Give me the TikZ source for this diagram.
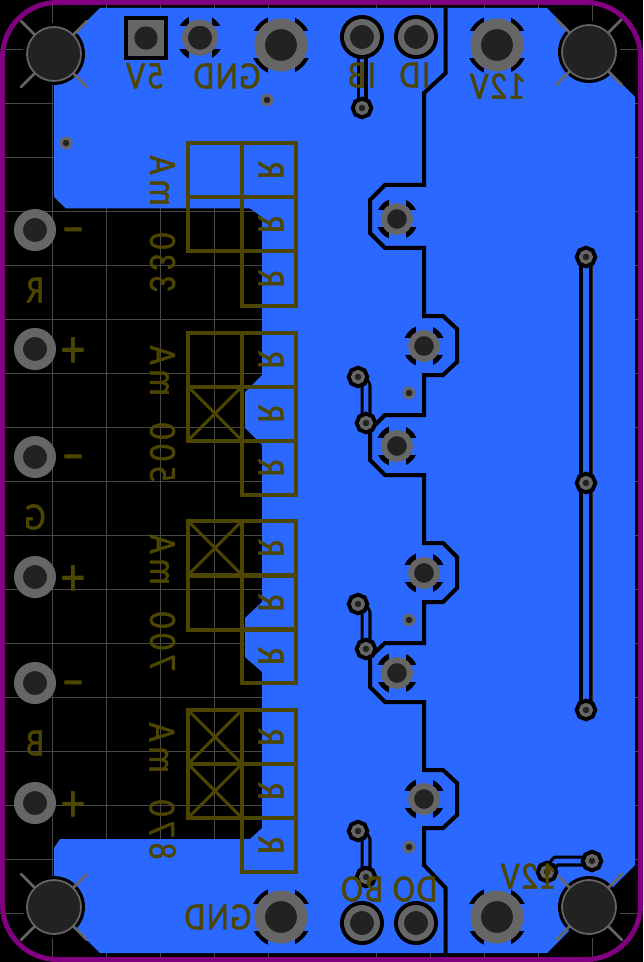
\documentclass[tikz,border=0pt]{standalone}
\usepackage{fontspec}
\setmainfont{Carlito}
\newfontfamily\silkfont[FakeStretch=0.86,LetterSpace=5,FakeBold=1.2]{Carlito}
\newfontfamily\silkupfont[FakeStretch=0.86,LetterSpace=12,WordSpace=2.2,FakeBold=1.2]{Carlito}
\definecolor{copper}{HTML}{2B68FF}
\definecolor{silk}{HTML}{4C4600}
\definecolor{ringgray}{HTML}{666666}
\definecolor{holedark}{HTML}{222222}
\definecolor{outline}{HTML}{800080}
\definecolor{gridgray}{HTML}{484848}
\tikzstyle{gridline} = [gridgray, line width=0.7pt]
\tikzstyle{cut} = [black, line width=3pt, line join=miter]
\tikzstyle{trackout} = [black, line width=8.25pt, line join=round]
\tikzstyle{trackin} = [copper, line width=3.5pt, line join=round]
\tikzstyle{railout} = [black, line width=10pt]
\tikzstyle{railin} = [copper, line width=5pt]
\tikzstyle{pad} = [circle, inner sep=0pt, outer sep=0pt, fill=holedark, draw=ringgray]
\tikzstyle{padsmall} = [pad, minimum size=22.5pt, line width=4.5pt]
\tikzstyle{padhalo} = [padsmall, preaction={draw=black, line width=10.5pt}]
\tikzstyle{padleft} = [pad, minimum size=24.75pt, line width=6.75pt]
\tikzstyle{padbig} = [pad, minimum size=31.9pt, line width=7.9pt]
\tikzstyle{padmid} = [pad, minimum size=19.5pt, line width=4.5pt]
\tikzstyle{padsq} = [rectangle, inner sep=0pt, minimum size=27pt, fill=ringgray, preaction={draw=black, line width=6pt, rounded corners=2pt}]
\tikzstyle{padhole} = [circle, inner sep=0pt, minimum size=17.5pt, fill=holedark]
\tikzstyle{via} = [pad, minimum size=7.5pt, line width=2.25pt]
\tikzstyle{viafree} = [pad, minimum size=7.9pt, line width=2.6pt, preaction={draw=black, line width=8.6pt}]
\tikzstyle{mounthalo} = [circle, inner sep=0pt, minimum size=46.5pt, fill=black]
\tikzstyle{mounthole} = [pad, minimum size=40.5pt, line width=1.3pt]
\tikzstyle{spoke} = [ringgray, line width=2pt, line cap=round]
\tikzstyle{silktext} = [text=silk, inner sep=0pt, font=\silkfont\fontsize{29}{29}\selectfont, xscale=-1]
\tikzstyle{silksign} = [text=silk, inner sep=0pt, font=\silkfont\fontsize{40}{40}\selectfont, xscale=-1]
\tikzstyle{silkup} = [text=silk, inner sep=0pt, font=\silkupfont\fontsize{29}{29}\selectfont, xscale=-1, rotate=90]
\tikzstyle{resbox} = [rectangle, draw=silk, line width=3pt, minimum size=40.5pt, inner sep=0pt, outer sep=0pt, text=silk, font=\silkfont\fontsize{29}{29}\selectfont, xscale=-1, rotate=90]
\tikzstyle{ledbox} = [rectangle, draw=silk, line width=3pt, minimum size=40.5pt, inner sep=0pt, outer sep=0pt]
\tikzstyle{ledcross} = [silk, line width=2.2pt]
\newcommand{\resmark}{\raisebox{3pt}{R}}
\newcommand{\thermal}[3]{%
  \begin{scope}[shift={(#1)}]
    \fill[black] (0,0) circle (#2);
    \fill[copper] ({-#2-1},{-#3}) rectangle ({#2+1},{#3});
    \fill[copper] ({-#3},{-#2-1}) rectangle ({#3},{#2+1});
  \end{scope}}

\begin{document}
\begin{tikzpicture}[x=0.75pt, y=-0.75pt]
    \fill[black] (0,0) rectangle (643,962);
    \useasboundingbox (0,0) rectangle (643,962);
    % grid
    \draw[gridline] (52,0) -- (52,962) (106,0) -- (106,962) (160,0) -- (160,962) (214,0) -- (214,962) (268,0) -- (268,962);
    \draw[gridline] (0,49) -- (643,49) (0,103) -- (643,103) (0,157) -- (643,157) (0,211) -- (643,211) (0,265) -- (643,265) (0,319) -- (643,319);
    \draw[gridline] (0,373) -- (643,373) (0,427) -- (643,427) (0,481) -- (643,481) (0,535) -- (643,535) (0,589) -- (643,589) (0,643) -- (643,643);
    \draw[gridline] (0,697) -- (643,697) (0,751) -- (643,751) (0,805) -- (643,805) (0,859) -- (643,859) (0,913) -- (643,913);
    \draw[gridline] (376,0) -- (376,962) (430,0) -- (430,962) (484,0) -- (484,962) (538,0) -- (538,962) (592,0) -- (592,962);
    % copper
    \fill[copper] (100,8) -- (54,54) -- (54,197) -- (66,208.5) -- (250,208.5) -- (262,217)
        -- (262,375) -- (245,392) -- (245,428) -- (262,445)
        -- (262,602) -- (245,618) -- (245,657) -- (262,672)
        -- (262,828) -- (250,839) -- (60,839) -- (54,848) -- (54,907) -- (100,953)
        -- (547,953) -- (635,865) -- (635,97) -- (547,8) -- cycle;
    % split
    \draw[cut] (445.7,8) -- (445.7,73) -- (424,93) -- (424,185) -- (385,185) -- (370,200) -- (370,233)
        -- (385,248) -- (424,248) -- (424,316) -- (443,316) -- (457,329) -- (457,362) -- (443,375)
        -- (424,375) -- (424,415) -- (385,415) -- (370,430) -- (370,460) -- (385,475) -- (424,475)
        -- (424,543) -- (443,543) -- (457,557) -- (457,588) -- (443,602) -- (424,602) -- (424,643)
        -- (385,643) -- (370,657) -- (370,687) -- (385,702) -- (424,702) -- (424,770) -- (443,770)
        -- (457,783) -- (457,815) -- (443,828) -- (424,828) -- (424,865) -- (445.7,888) -- (445.7,953);
    % mounting holes
    \node (m1) [mounthalo] at (54,54) {};
    \node (m2) [mounthalo] at (589,52) {};
    \node (m3) [mounthalo] at (54,907) {};
    \node (m4) [mounthalo] at (589,907) {};
    \draw[spoke] (m1.center) -- +(-33,-33) (m1.center) -- +(33,-33) (m1.center) -- +(-33,33) (m1.center) -- +(33,33);
    \draw[spoke] (m2.center) -- +(-33,-33) (m2.center) -- +(33,-33) (m2.center) -- +(-33,33) (m2.center) -- +(33,33);
    \draw[spoke] (m3.center) -- +(-33,-33) (m3.center) -- +(33,-33) (m3.center) -- +(-33,33) (m3.center) -- +(33,33);
    \draw[spoke] (m4.center) -- +(-33,-33) (m4.center) -- +(33,-33) (m4.center) -- +(-33,33) (m4.center) -- +(33,33);
    \node (mh1) [mounthole] at (m1) {};
    \node (mh2) [mounthole] at (m2) {};
    \node (mh3) [mounthole] at (m3) {};
    \node (mh4) [mounthole] at (m4) {};
    % thermal reliefs
    \thermal{200,37.7}{23.5}{11.5}
    \thermal{281,45}{30.6}{13.5}
    \thermal{497,45}{30.6}{13.5}
    \thermal{281,917}{30.6}{13.5}
    \thermal{497,917}{30.6}{13.5}
    \thermal{397,219}{21}{8.5}
    \thermal{424,346}{21}{8.5}
    \thermal{397,446}{21}{8.5}
    \thermal{424,573}{21}{8.5}
    \thermal{397,673}{21}{8.5}
    \thermal{424,799}{21}{8.5}
    % free vias and tracks
    \coordinate (v1) at (362,108);
    \coordinate (vr1) at (586,257);
    \coordinate (vr2) at (586,483);
    \coordinate (vr3) at (586,710);
    \coordinate (va1) at (358,377);
    \coordinate (vb1) at (366,423);
    \coordinate (va2) at (358,604);
    \coordinate (vb2) at (366,649);
    \coordinate (va3) at (358,831);
    \coordinate (vb3) at (366,877);
    \coordinate (vc1) at (547,872);
    \coordinate (vc2) at (592,861);
    \coordinate (pib) at (362,37);
    \draw[trackout] (pib) -- (v1);
    \draw[trackout] (va1) -- (366,385) -- (vb1);
    \draw[trackout] (va2) -- (366,612) -- (vb2);
    \draw[trackout] (va3) -- (366,839) -- (vb3);
    \draw[trackout] (vc1) -- (556,861) -- (vc2);
    \draw[railout] (vr1) -- (vr3);
    \draw[gridgray!60!black, line width=0.7pt] (592,262) -- (592,705);
    \draw[trackin] (pib) -- (v1);
    \draw[trackin] (va1) -- (366,385) -- (vb1);
    \draw[trackin] (va2) -- (366,612) -- (vb2);
    \draw[trackin] (va3) -- (366,839) -- (vb3);
    \draw[trackin] (vc1) -- (556,861) -- (vc2);
    \draw[railin] (vr1) -- (vr3);
    \node (via1) [viafree] at (v1) {};
    \node (via2) [viafree] at (vr1) {};
    \node (via3) [viafree] at (vr2) {};
    \node (via4) [viafree] at (vr3) {};
    \node (via5) [viafree] at (va1) {};
    \node (via6) [viafree] at (vb1) {};
    \node (via7) [viafree] at (va2) {};
    \node (via8) [viafree] at (vb2) {};
    \node (via9) [viafree] at (va3) {};
    \node (via10) [viafree] at (vb3) {};
    \node (via11) [viafree] at (vc1) {};
    \node (via12) [viafree] at (vc2) {};
    \node (stitch1) [via] at (267,100) {};
    \node (stitch2) [via] at (66,143) {};
    \node (stitch3) [via] at (409,393) {};
    \node (stitch4) [via] at (409,620) {};
    \node (stitch5) [via] at (409,847) {};
    % pads
    \node (p5v) [padsq] at (146,38) {};
    \node (p5vh) [padhole] at (p5v) {};
    \node (pgnd) [padsmall] at (200,37.7) {};
    \node (pgndt) [padbig] at (281,45) {};
    \node (p12t) [padbig] at (497,45) {};
    \node (pgndb) [padbig] at (281,917) {};
    \node (p12b) [padbig] at (497,917) {};
    \node (pibt) [padhalo] at (pib) {};
    \node (pidt) [padhalo] at (416,37) {};
    \node (pbob) [padhalo] at (362,923) {};
    \node (pdob) [padhalo] at (416,923) {};
    \node (prm) [padleft] at (35,230) {};
    \node (prp) [padleft] at (35,349) {};
    \node (pgm) [padleft] at (35,457) {};
    \node (pgp) [padleft] at (35,577) {};
    \node (pbm) [padleft] at (35,683) {};
    \node (pbp) [padleft] at (35,803) {};
    \node (q1) [padmid] at (397,219) {};
    \node (q2) [padmid] at (424,346) {};
    \node (q3) [padmid] at (397,446) {};
    \node (q4) [padmid] at (424,573) {};
    \node (q5) [padmid] at (397,673) {};
    \node (q6) [padmid] at (424,799) {};
    % outline
    \draw[outline, line width=3.75pt, rounded corners=41pt] (2.5,2.5) rectangle (640.5,959.5);
    % silkscreen boxes
    \node (ra1) [resbox] at (269,170) {\resmark};
    \node (ra2) [resbox] at (269,224) {\resmark};
    \node (ra3) [resbox] at (269,278.5) {\resmark};
    \node (rb1) [resbox] at (269,359.5) {\resmark};
    \node (rb2) [resbox] at (269,413.5) {\resmark};
    \node (rb3) [resbox] at (269,467.5) {\resmark};
    \node (rc1) [resbox] at (269,548) {\resmark};
    \node (rc2) [resbox] at (269,602.5) {\resmark};
    \node (rc3) [resbox] at (269,656) {\resmark};
    \node (rd1) [resbox] at (269,737) {\resmark};
    \node (rd2) [resbox] at (269,791) {\resmark};
    \node (rd3) [resbox] at (269,845) {\resmark};
    \node (la1) [ledbox] at (215,170) {};
    \node (la2) [ledbox] at (215,224) {};
    \node (lb1) [ledbox] at (215,359.5) {};
    \node (lb2) [ledbox] at (215,413.5) {};
    \node (lc1) [ledbox] at (215,548) {};
    \node (lc2) [ledbox] at (215,602.5) {};
    \node (ld1) [ledbox] at (215,737) {};
    \node (ld2) [ledbox] at (215,791) {};
    \draw[ledcross] (lb2.north west) -- (lb2.south east);
    \draw[ledcross] (lb2.north east) -- (lb2.south west);
    \draw[ledcross] (lc1.north west) -- (lc1.south east);
    \draw[ledcross] (lc1.north east) -- (lc1.south west);
    \draw[ledcross] (ld1.north west) -- (ld1.south east);
    \draw[ledcross] (ld1.north east) -- (ld1.south west);
    \draw[ledcross] (ld2.north west) -- (ld2.south east);
    \draw[ledcross] (ld2.north east) -- (ld2.south west);
    % silkscreen labels
    \node (t5v) [silktext] at (145,76) {5V};
    \node (tgnd) [silktext] at (227,76) {GND};
    \node (tib) [silktext] at (362,75) {IB};
    \node (tid) [silktext] at (415,75) {ID};
    \node (t12t) [silktext] at (498,86) {12V};
    \node (tgndb) [silktext] at (218,917) {GND};
    \node (t12b) [silktext] at (529,876) {12V};
    \node (tbo) [silktext] at (362,889) {BO};
    \node (tdo) [silktext] at (415,889) {DO};
    \node (tr) [silktext] at (35,290) {R};
    \node (tg) [silktext] at (35,517) {G};
    \node (tb) [silktext] at (35,743) {B};
    \node (s1) [silksign] at (73,236) {–};
    \node (s2) [silksign] at (73,352) {+};
    \node (s3) [silksign] at (73,463) {–};
    \node (s4) [silksign] at (73,580) {+};
    \node (s5) [silksign] at (73,689) {–};
    \node (s6) [silksign] at (73,806) {+};
    \node (i1) [silkup] at (162.5,224) {330 mA};
    \node (i2) [silkup] at (162.5,414) {500 mA};
    \node (i3) [silkup] at (162.5,603) {700 mA};
    \node (i4) [silkup] at (162.5,791) {870 mA};
\end{tikzpicture}
\end{document}
